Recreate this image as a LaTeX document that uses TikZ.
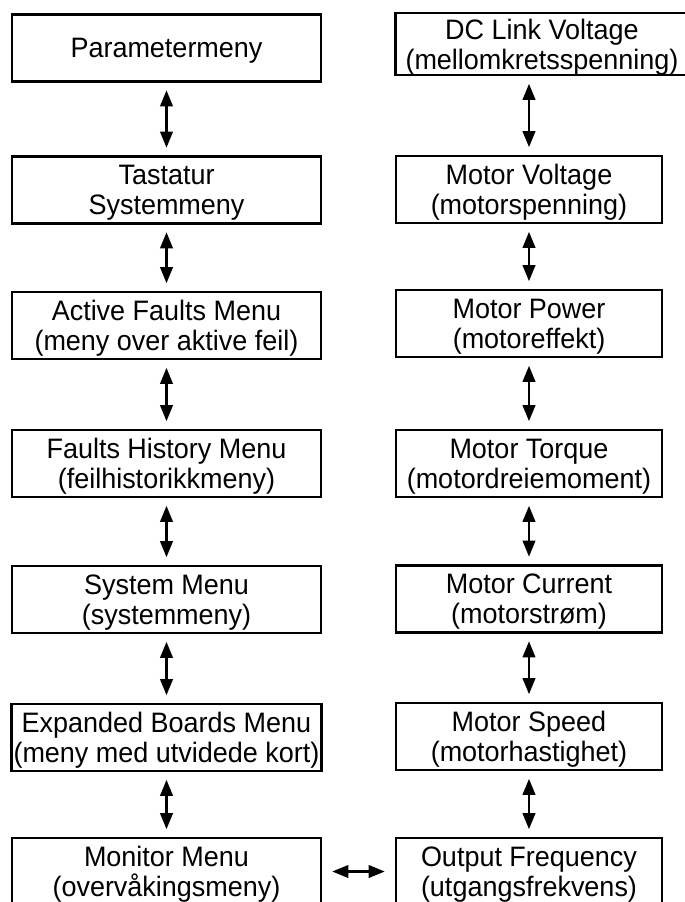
\documentclass[tikz,border=0pt]{standalone}
\usepackage{fontspec}
\setmainfont[FakeStretch=0.96]{Liberation Sans}
\usetikzlibrary{arrows.meta}

\begin{document}
\begin{tikzpicture}[
    x=0.02cm, y=-0.02cm, % one unit = one pixel of the page
    >={Triangle[length=0.32cm, width=0.25cm]},
    % Style definitions
    menu box/.style={draw, line width=1.5pt, rectangle, align=center, inner sep=1pt, minimum height=1.34cm, text depth=0pt, font=\fontsize{16}{17}\selectfont},
    left box/.style={menu box, minimum width=6.18cm},
    right box/.style={menu box, minimum width=5.32cm},
    % Connectors
    link arrow/.style={<->, line width=1.3pt, shorten <=0.15cm, shorten >=0.15cm}
]

% Page size (bottom boxes run off the page)
\useasboundingbox (0,0) rectangle (685,902);
\clip (0,0) rectangle (685,902);

% ==========================================
% 1. LEFT COLUMN (menus)
% ==========================================

\node[left box] (param)    at (166.5, 48)    {Parametermeny};
\node[left box] (keypad)   at (166.5, 190)   {Tastatur\\Systemmeny};
\node[left box] (active)   at (166.5, 325.5) {Active Faults Menu\\(meny over aktive feil)};
\node[left box] (history)  at (166.5, 463.5) {Faults History Menu\\(feilhistorikkmeny)};
\node[left box] (system)   at (166.5, 599.5) {System Menu\\(systemmeny)};
\node[left box] (expanded) at (166.5, 737.5) {Expanded Boards Menu\\(meny med utvidede kort)};
\node[left box] (monitor)  at (166.5, 871.5) {Monitor Menu\\(overvåkingsmeny)};

% ==========================================
% 2. RIGHT COLUMN (monitored values)
% ==========================================

\node[menu box, minimum width=5.86cm, minimum height=1.24cm] (dclink) at (542, 44)
    {DC Link Voltage\\(mellomkretsspenning)};
\node[right box] (mvolt)   at (529, 189.5) {Motor Voltage\\(motorspenning)};
\node[right box] (mpower)  at (529, 323.5) {Motor Power\\(motoreffekt)};
\node[right box] (mtorque) at (529, 463.5) {Motor Torque\\(motordreiemoment)};
\node[right box] (mcurr)   at (529, 599)   {Motor Current\\(motorstrøm)};
\node[right box] (mspeed)  at (529, 736.5) {Motor Speed\\(motorhastighet)};
\node[right box] (outfreq) at (529, 871.5) {Output Frequency\\(utgangsfrekvens)};

% ==========================================
% 3. ARROWS
% ==========================================

% Left column
\draw[link arrow] (param) -- (keypad);
\draw[link arrow] (keypad) -- (active);
\draw[link arrow] (active) -- (history);
\draw[link arrow] (history) -- (system);
\draw[link arrow] (system) -- (expanded);
\draw[link arrow] (expanded) -- (monitor);

% Right column
\draw[link arrow] (dclink.south -| mvolt.north) -- (mvolt);
\draw[link arrow] (mvolt) -- (mpower);
\draw[link arrow] (mpower) -- (mtorque);
\draw[link arrow] (mtorque) -- (mcurr);
\draw[link arrow] (mcurr) -- (mspeed);
\draw[link arrow] (mspeed) -- (outfreq);

% Between the two bottom boxes
\draw[link arrow, shorten <=0.2cm, shorten >=0.2cm] (monitor) -- (outfreq);

\end{tikzpicture}
\end{document}
